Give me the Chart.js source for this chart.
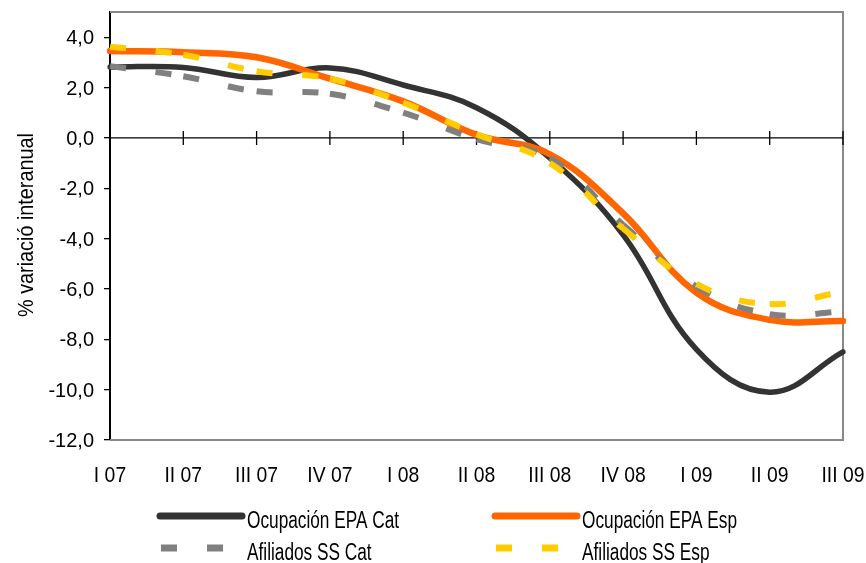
<!DOCTYPE html>
<html lang="es">
<head>
<meta charset="UTF-8">
<title>Ocupación EPA y afiliados SS</title>
<style>
    html, body { margin: 0; padding: 0; background: #fff; }
    #wrap { width: 866px; height: 563px; }
</style>
</head>
<body>
<div id="wrap"><canvas id="grafico"></canvas></div>
<script src="https://cdn.jsdelivr.net/npm/chart.js"></script>
<script>
    // Datos (% variació interanual)
    const trimestres = ['I 07', 'II 07', 'III 07', 'IV 07', 'I 08', 'II 08', 'III 08', 'IV 08', 'I 09', 'II 09', 'III 09'];
    const epaCat = [2.82, 2.8, 2.4, 2.78, 2.1, 1.2, -0.8, -3.85, -8.4, -10.1, -8.5];
    const epaEsp = [3.45, 3.4, 3.2, 2.35, 1.45, 0.12, -0.65, -3.0, -6.15, -7.23, -7.27];
    const ssCat = [2.85, 2.45, 1.85, 1.75, 1.0, -0.05, -0.8, -3.45, -5.9, -7.0, -6.9];
    const ssEsp = [3.62, 3.3, 2.65, 2.35, 1.4, 0.15, -1.0, -3.6, -5.8, -6.6, -6.1];
    const yTicks = [4, 2, 0, -2, -4, -6, -8, -10, -12];

    const FUENTE = "'Liberation Sans', Arial, sans-serif";

    function texto(ctx, str, x, y, size, sx, align) {
        ctx.save();
        ctx.font = size + 'px ' + FUENTE;
        ctx.fillStyle = '#000';
        ctx.textAlign = align;
        ctx.textBaseline = 'alphabetic';
        ctx.translate(x, y);
        ctx.scale(sx, 1);
        ctx.fillText(str, 0, 0);
        ctx.restore();
    }

    // el patrón de trazos vuelve a empezar en cada punto, como en Excel
    const trazoPorTramo = {
        borderDashOffset: c => (c.p0DataIndex % 2 ? 0.01 : 0)
    };

    const extras = {
        id: 'extras',
        beforeDatasetsDraw(chart) {
            const { ctx, chartArea: a, scales: { x, y } } = chart;
            ctx.save();
            ctx.strokeStyle = '#888';
            ctx.lineWidth = 2;
            ctx.beginPath();
            ctx.moveTo(a.left, a.top);
            ctx.lineTo(a.right, a.top);
            ctx.lineTo(a.right, a.bottom);
            ctx.lineTo(a.left, a.bottom);
            ctx.stroke();

            const y0 = y.getPixelForValue(0);
            ctx.strokeStyle = '#000';
            ctx.lineWidth = 1.3;
            ctx.beginPath();
            ctx.moveTo(a.left, y0);
            ctx.lineTo(a.right, y0);
            trimestres.forEach((t, i) => {
                const px = x.getPixelForValue(i);
                ctx.moveTo(px, y0 - 7);
                ctx.lineTo(px, y0 + 7);
            });
            ctx.stroke();
            ctx.restore();
        },
        afterDraw(chart) {
            const { ctx, scales: { x, y } } = chart;

            yTicks.forEach(v => {
                texto(ctx, v.toFixed(1).replace('.', ','), 94, y.getPixelForValue(v) + 7, 20, 1, 'right');
            });
            trimestres.forEach((t, i) => {
                texto(ctx, t, x.getPixelForValue(i), 482, 22, 0.88, 'center');
            });

            // título del eje
            ctx.save();
            ctx.translate(33, 225);
            ctx.rotate(-Math.PI / 2);
            texto(ctx, '% variació interanual', 0, 0, 22, 0.9, 'center');
            ctx.restore();

            // leyenda en dos columnas
            const cols = [160, 495];
            const rows = [516, 548];
            chart.data.datasets.forEach((ds, i) => {
                const cx = cols[i % 2];
                const cy = rows[Math.floor(i / 2)];
                ctx.save();
                ctx.strokeStyle = ds.borderColor;
                ctx.lineWidth = 7;
                ctx.beginPath();
                if (ds.borderDash) {
                    ctx.lineCap = 'butt';
                    ctx.moveTo(cx + 1, cy); ctx.lineTo(cx + 17, cy);
                    ctx.moveTo(cx + 47, cy); ctx.lineTo(cx + 63, cy);
                } else {
                    ctx.lineCap = 'round';
                    ctx.moveTo(cx, cy); ctx.lineTo(cx + 82, cy);
                }
                ctx.stroke();
                ctx.restore();
                texto(ctx, ds.label, cx + 87, cy + 12, 23, 0.75, 'left');
            });
        }
    };

    new Chart(document.getElementById('grafico'), {
        type: 'line',
        data: {
            labels: trimestres,
            datasets: [
                { label: 'Ocupación EPA Cat', data: epaCat, borderColor: '#333333', borderWidth: 5.5, order: 3 },
                { label: 'Ocupación EPA Esp', data: epaEsp, borderColor: '#FF6600', borderWidth: 6.5, order: 2 },
                { label: 'Afiliados SS Cat', data: ssCat, borderColor: '#808080', borderWidth: 6,
                  borderDash: [16, 30], borderCapStyle: 'butt', segment: trazoPorTramo, order: 1 },
                { label: 'Afiliados SS Esp', data: ssEsp, borderColor: '#FFCC00', borderWidth: 6,
                  borderDash: [16, 30], borderCapStyle: 'butt', segment: trazoPorTramo, order: 0 }
            ]
        },
        options: {
            responsive: true,
            maintainAspectRatio: false,
            animation: false,
            layout: { padding: { left: 0, right: 23, top: 12, bottom: 0 } },
            elements: {
                point: { radius: 0 },
                line: { tension: 0.4, fill: false, borderJoinStyle: 'round', borderCapStyle: 'round' }
            },
            plugins: { legend: { display: false }, tooltip: { enabled: false } },
            scales: {
                x: {
                    offset: false,
                    grid: { display: false, drawTicks: false },
                    border: { display: false },
                    ticks: { display: false },
                    afterFit: s => { s.height = 123; }
                },
                y: {
                    min: -12,
                    max: 5,
                    afterBuildTicks: s => { s.ticks = yTicks.map(v => ({ value: v })); },
                    grid: { display: true, drawOnChartArea: false, drawTicks: true, tickLength: 6, color: '#000', lineWidth: 1.3 },
                    border: { display: true, color: '#000', width: 2 },
                    ticks: { display: false },
                    afterFit: s => { s.width = 110; }
                }
            }
        },
        plugins: [extras]
    });
</script>
</body>
</html>
